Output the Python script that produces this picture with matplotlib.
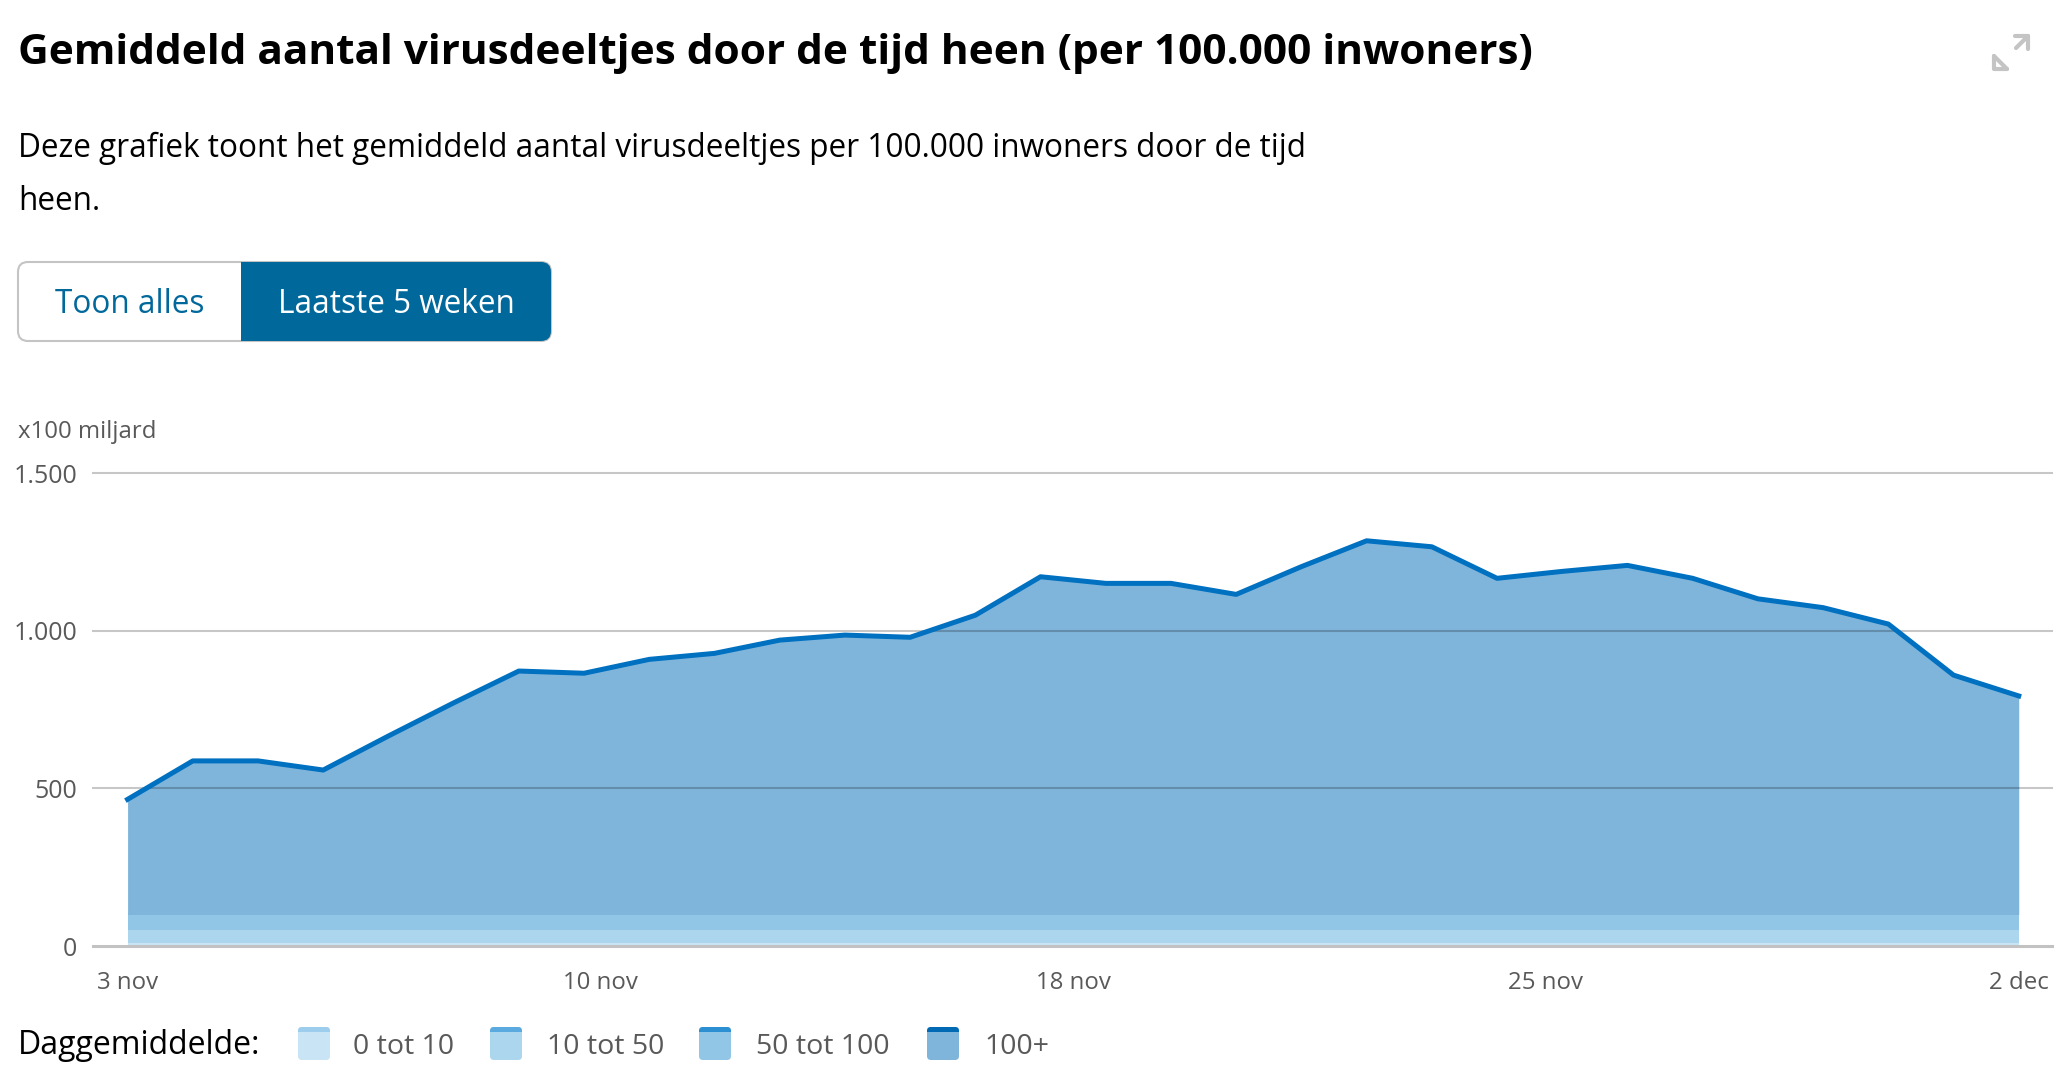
import numpy as np
import matplotlib
matplotlib.use("Agg")
import matplotlib.pyplot as plt
from matplotlib.patches import FancyBboxPatch, Rectangle

plt.rcParams["font.family"] = ["Open Sans", "DejaVu Sans"]

# data (x100 miljard per 100.000 inwoners)
dates = ["3 nov", "4 nov", "5 nov", "6 nov", "7 nov", "8 nov", "9 nov", "10 nov",
         "11 nov", "12 nov", "13 nov", "14 nov", "15 nov", "16 nov", "17 nov",
         "18 nov", "19 nov", "20 nov", "21 nov", "22 nov", "23 nov", "24 nov",
         "25 nov", "26 nov", "27 nov", "28 nov", "29 nov", "30 nov", "1 dec", "2 dec"]
values = [465, 587, 587, 558, 666, 771, 872, 865, 909, 928, 970, 986, 979, 1049, 1171,
          1150, 1150, 1115, 1203, 1285, 1266, 1166, 1188, 1207, 1166, 1101, 1073, 1021,
          859, 793]
band_edges = [0, 10, 50, 100]
band_labels = ["0 tot 10", "10 tot 50", "50 tot 100", "100+"]
band_colors = ["#c9e4f4", "#acd5ee", "#92c6e6", "#80b5db"]
band_tops = ["#9dcdec", "#5aa9df", "#2b8fd2", "#0069b4"]
xtick_labels = ["3 nov", "10 nov", "18 nov", "25 nov", "2 dec"]
yticks = [0, 500, 1000, 1500]
ytick_labels = ["0", "500", "1.000", "1.500"]

title = "Gemiddeld aantal virusdeeltjes door de tijd heen (per 100.000 inwoners)"
subtitle = "Deze grafiek toont het gemiddeld aantal virusdeeltjes per 100.000 inwoners door de tijd"

W, H = 2065, 1076
fig = plt.figure(figsize=(W / 100, H / 100), dpi=100)


def fx(px):
    return px / W


def fy(py):
    return 1 - py / H


# chart area
ax = fig.add_axes([fx(93), fy(946), fx(2052) - fx(93), fy(473) - fy(946)])
x = np.arange(len(values))
vals = np.array(values, dtype=float)
for i, lo in enumerate(band_edges):
    hi = band_edges[i + 1] if i + 1 < len(band_edges) else np.inf
    ax.fill_between(x, lo, np.minimum(vals, hi), color=band_colors[i], lw=0, zorder=1)

for yv in yticks[1:]:
    ax.axhline(yv, color="black", alpha=0.22, lw=1.5, clip_on=False, zorder=2)
ax.axhline(0, color="#c2c2c2", lw=2.2, clip_on=False, zorder=4)
ax.plot(x, vals, color="#0070c0", lw=3.6, zorder=5, solid_joinstyle="round")

ax.set_xlim(-0.53, 29.51)
ax.set_ylim(0, 1500)
ax.set_xticks(np.linspace(0, len(values) - 1, len(xtick_labels)), xtick_labels)
ax.set_yticks(yticks, ytick_labels)
ax.tick_params(length=0, labelsize=17.3, labelcolor="#595959")
ax.tick_params(axis="x", pad=18)
ax.tick_params(axis="y", pad=11.5, labelsize=18)
for s in ax.spines.values():
    s.set_visible(False)

# header, buttons and legend in pixel coordinates
page = fig.add_axes([0, 0, 1, 1])
page.set_xlim(0, W)
page.set_ylim(H, 0)
page.axis("off")

page.text(18, 64, title, fontsize=30.5, fontweight="bold", color="black", va="baseline")
page.text(18, 157, subtitle, fontsize=22.7, color="black", va="baseline")
page.text(18, 210, "heen.", fontsize=22.7, color="black", va="baseline")

r = 10
page.add_patch(FancyBboxPatch((18 + r, 262 + r), 533 - 2 * r, 79 - 2 * r,
                              boxstyle=f"round,pad={r}", fc="white", ec="#c4c4c4", lw=1.5))
page.add_patch(FancyBboxPatch((241 + r, 262 + r), 310 - 2 * r, 79 - 2 * r,
                              boxstyle=f"round,pad={r}", fc="#01689b", ec="none"))
page.add_patch(Rectangle((241, 262), 2 * r, 79, fc="#01689b", ec="none"))
page.text(130, 313, "Toon alles", fontsize=22.7, color="#01689b", ha="center", va="baseline")
page.text(396, 313, "Laatste 5 weken", fontsize=22.7, color="white", ha="center", va="baseline")

# expand icon
ic = dict(color="#c4c4c4", lw=3, solid_capstyle="round")
page.plot([1994, 2007], [56, 69], **ic)
page.plot([1994, 1994, 2007], [56, 69, 69], **ic)
page.plot([2016, 2028], [48, 36], **ic)
page.plot([2015, 2028, 2028], [36, 36, 49], **ic)

page.text(18, 438, "x100 miljard", fontsize=17.3, color="#595959", va="baseline")

# legend
page.text(18, 1054, "Daggemiddelde:", fontsize=23, color="black", va="baseline")
sw_x = [298, 490, 699, 927]
lb_x = [353, 547, 756, 984]
for i, lab in enumerate(band_labels):
    box = FancyBboxPatch((sw_x[i] + 4, 1027 + 4), 32 - 8, 33 - 8,
                         boxstyle="round,pad=4", fc=band_colors[i], ec="none")
    page.add_patch(box)
    strip = Rectangle((sw_x[i] - 1, 1026), 34, 6, fc=band_tops[i], ec="none")
    page.add_patch(strip)
    strip.set_clip_path(box)
    page.text(lb_x[i], 1054, lab, fontsize=20.5, color="#595959", va="baseline")

fig.savefig("out.png", dpi=100, facecolor="white")
